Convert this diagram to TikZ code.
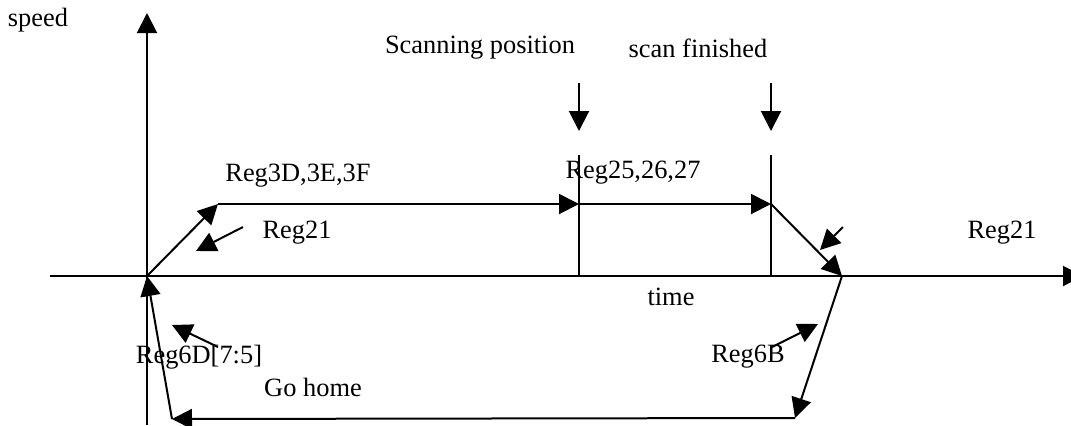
\documentclass[tikz,border=0pt]{standalone}
\usepackage{fontspec}
\setmainfont{Liberation Serif}
\usetikzlibrary{arrows.meta}

\tikzset{
  lbl/.style={inner sep=0pt, font=\fontsize{13.2}{16}\selectfont},
  tip/.style={-{Triangle[length=10pt,width=10pt]}}
}

\begin{document}
\begin{tikzpicture}[x=0.5pt, y=-0.5pt, line width=1pt]
  \useasboundingbox (0,0) rectangle (1071,425);

  % Axes
  \coordinate (O) at (147,276);
  \coordinate (Ybot) at (147,425);
  \coordinate (Ytop) at (147,13);
  \coordinate (Xl) at (50,276);
  \coordinate (Xr) at (1083,276);
  \draw[tip] (Ybot) -- (Ytop);
  \draw[tip] (Xl) -- (Xr);

  % Speed profile
  \coordinate (A) at (218,204);
  \coordinate (S) at (579,204);
  \coordinate (F) at (771,204);
  \coordinate (E) at (842,276);
  \draw[tip] (O) -- (A);
  \draw[tip] (A) -- (S);
  \draw[tip] (S) -- (F);
  \draw[tip] (F) -- (E);

  % Go home
  \coordinate (G) at (795,418);
  \coordinate (H) at (172,419);
  \draw[tip] (E) -- (G);
  \draw[tip] (G) -- (H);
  \draw[tip] (H) -- (O);

  % Scan markers
  \coordinate (St) at (579,155);
  \coordinate (Sb) at (579,276);
  \coordinate (Ft) at (771,155);
  \coordinate (Fb) at (771,276);
  \draw (St) -- (Sb);
  \draw (Ft) -- (Fb);
  \coordinate (Sa) at (579,83);
  \coordinate (Sc) at (579,131);
  \coordinate (Fa) at (771,83);
  \coordinate (Fc) at (771,131);
  \draw[tip] (Sa) -- (Sc);
  \draw[tip] (Fa) -- (Fc);

  % Labels
  \node[lbl] (speed) at (38,20) {speed};
  \node[lbl] (scanpos) at (480,48) {Scanning position};
  \node[lbl] (scanfin) at (698,48) {scan finished};
  \node[lbl] (reg3d) at (298,176) {Reg3D,3E,3F};
  \node[lbl] (reg25) at (633,173) {Reg25,26,27};
  \node[lbl] (reg21a) at (297,233) {Reg21};
  \node[lbl] (reg21b) at (1002,233) {Reg21};
  \node[lbl] (time) at (671,297) {time};
  \node[lbl] (reg6d) at (199,357) {Reg6D[7:5]};
  \node[lbl] (gohome) at (313,387) {Go home};
  \node[lbl] (reg6b) at (748,357) {Reg6B};

  % Pointer arrows
  \coordinate (p1a) at (243,227);
  \coordinate (p1b) at (196,251);
  \coordinate (p2a) at (843,227);
  \coordinate (p2b) at (820,250);
  \coordinate (p3a) at (218,347);
  \coordinate (p3b) at (172,325);
  \coordinate (p4a) at (772,347);
  \coordinate (p4b) at (818,324);
  \draw[tip] (p1a) -- (p1b);
  \draw[tip] (p2a) -- (p2b);
  \draw[tip] (p3a) -- (p3b);
  \draw[tip] (p4a) -- (p4b);
\end{tikzpicture}
\end{document}
